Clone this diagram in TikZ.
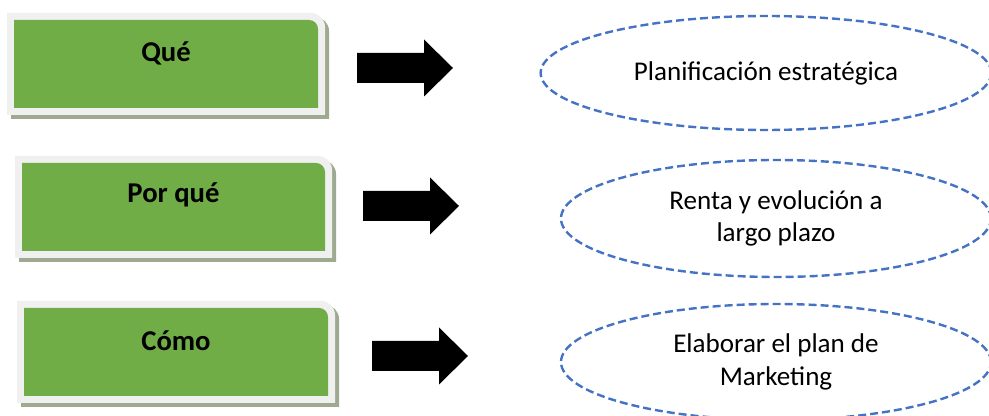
\documentclass[tikz,border=0pt]{standalone}
\usepackage{fontspec}
\setmainfont{Carlito}
\usetikzlibrary{shapes.geometric}
\definecolor{tabgreen}{HTML}{70AD47}
\definecolor{tabrim}{HTML}{F0F0F0}
\definecolor{tabshade}{HTML}{9DAA90}
\definecolor{planblue}{HTML}{4472C4}
\def\tabshape[#1](#2,#3)(#4,#5)#6{\fill[#1] (#2,#3) -- (#2,#5) -- ({#4-#6},#5) arc (90:0:#6) -- (#4,#3) -- cycle;}
\def\blockarrow(#1,#2){\fill[black] (#1,#2) ++(0,-15) -- ++(67,0) -- ++(0,-13.5) -- ++(29,28.5) -- ++(-29,28.5) -- ++(0,-13.5) -- ++(-67,0) -- cycle;}
\tikzset{
	tablabel/.style={font=\fontsize{21.5}{26}\selectfont\bfseries, inner sep=0pt},
	planoval/.style={ellipse, draw=planblue, line width=1.8pt, dash pattern=on 6pt off 3pt, inner sep=0pt, align=center, font=\fontsize{20.3}{24.5}\selectfont},
}

\begin{document}
\begin{tikzpicture}[x=0.75pt, y=0.75pt]
			%%%%% START %%%%%
			\useasboundingbox (0, 0) rectangle (989, 416);
			
			% green tabs
			\tabshape[tabshade](11, 297)(329, 399){14}
			\tabshape[tabrim](7, 301)(325, 403){14}
			\tabshape[tabgreen](14, 308)(318, 396){9}
			\node[tablabel] (que) at (166, 363) {Qué};
			
			\tabshape[tabshade](19, 154)(336, 256){14}
			\tabshape[tabrim](15, 158)(332, 260){14}
			\tabshape[tabgreen](22, 165)(325, 253){9}
			\node[tablabel] (porque) at (173.5, 221) {Por qué};
			
			\tabshape[tabshade](21, 9)(339, 111){14}
			\tabshape[tabrim](17, 13)(335, 115){14}
			\tabshape[tabgreen](24, 20)(328, 108){9}
			\node[tablabel] (como) at (176, 75) {Cómo};
			
			% block arrows
			\blockarrow(357, 348)
			\blockarrow(363, 210)
			\blockarrow(372, 60)
			
			% ovals
			\node[planoval, minimum width=338pt, minimum height=85.5pt] (plan) at (766, 343) {Planificación estratégica};
			\node[planoval, minimum width=322.5pt, minimum height=87.75pt] (renta) at (776, 197.5) {Renta y evolución a\\largo plazo};
			\node[planoval, minimum width=322.5pt, minimum height=87pt] (marketing) at (776, 54) {Elaborar el plan de\\Marketing};
			
			%%%%% END %%%%%
\end{tikzpicture}
\end{document}
